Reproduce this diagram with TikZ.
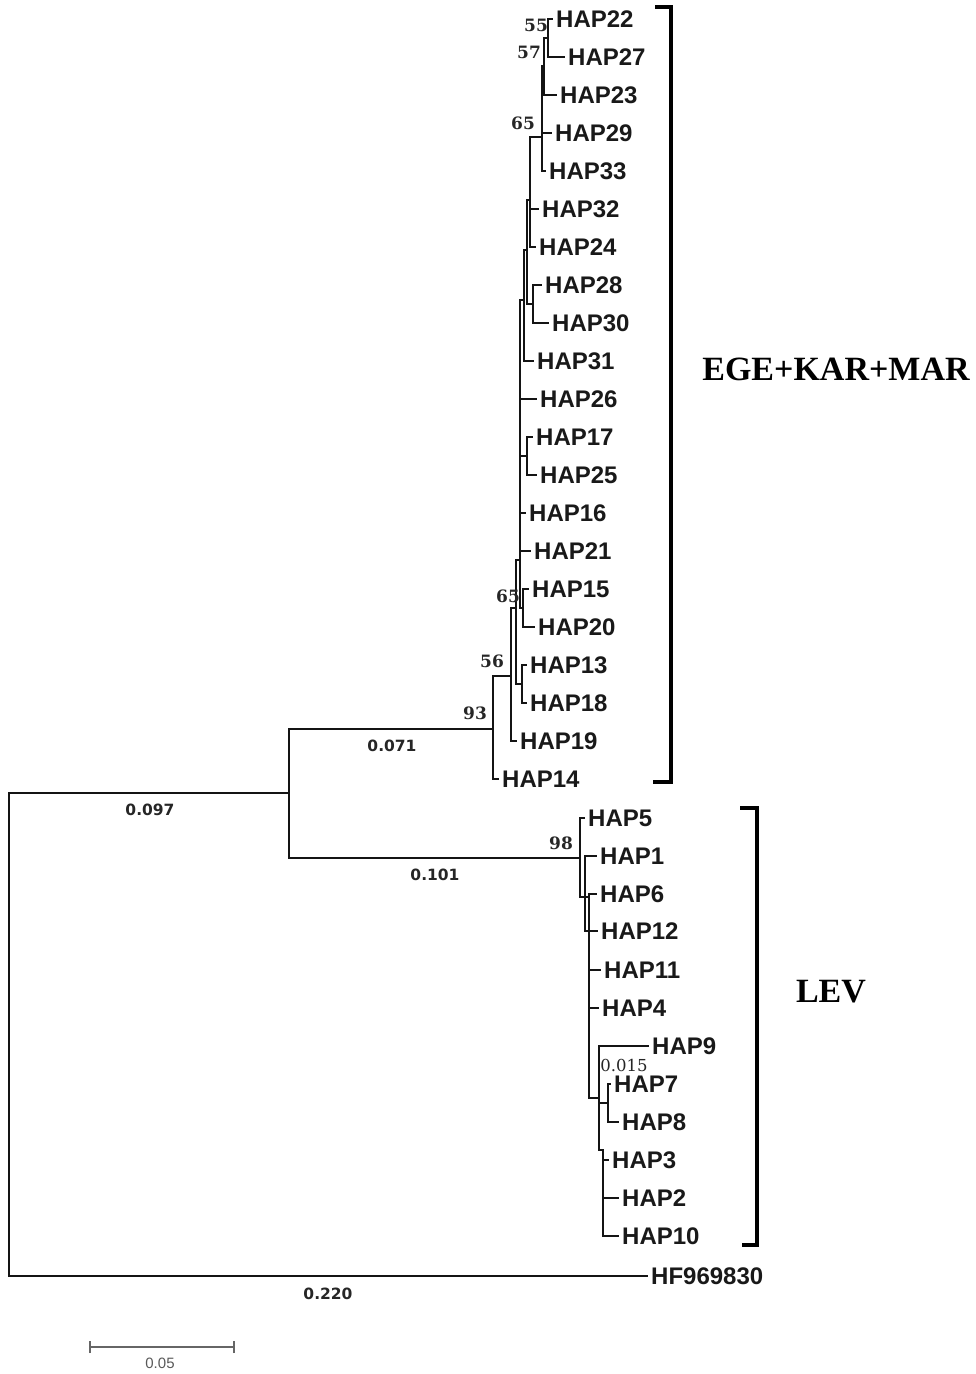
\documentclass[tikz,border=0pt]{standalone}
\usepackage{fontspec}
\setmainfont{Liberation Sans}
\newfontfamily\bootfont{DejaVu Serif}
\newfontfamily\lenfont{DejaVu Sans}
\newfontfamily\grpfont{Liberation Serif}
\begin{document}
\begin{tikzpicture}[x=1pt,y=-1pt,
  br/.style={line width=2.2pt, line cap=rect, draw=black!92},
  leaf/.style={anchor=west, inner xsep=4pt, inner ysep=0pt, text=black!90,
    font=\fontsize{24}{26}\selectfont\bfseries},
  boot/.style={inner sep=0pt, text=black!85, font=\bootfont\bfseries\fontsize{17}{18}\selectfont},
  bootlight/.style={inner sep=0pt, text=black!85, font=\bootfont\fontsize{16.5}{18}\selectfont},
  blen/.style={inner sep=0pt, text=black!85, font=\lenfont\bfseries\fontsize{15.5}{18}\selectfont},
  grp/.style={inner sep=0pt, font=\grpfont\bfseries\fontsize{34}{38}\selectfont},
  brk/.style={line width=4pt, draw=black},
  scalebar/.style={line width=1.4pt, draw=black!60},
]
\useasboundingbox (0,0) rectangle (976,1374);
\fill[white] (0,0) rectangle (976,1374);

% ---------- leaves (at branch tips) ----------
\node[leaf] (h22) at (552,19) {HAP22};
\node[leaf] (h27) at (564,57) {HAP27};
\node[leaf] (h23) at (556,95) {HAP23};
\node[leaf] (h29) at (551,133) {HAP29};
\node[leaf] (h33) at (545,171) {HAP33};
\node[leaf] (h32) at (538,209) {HAP32};
\node[leaf] (h24) at (535,247) {HAP24};
\node[leaf] (h28) at (541,285) {HAP28};
\node[leaf] (h30) at (548,323) {HAP30};
\node[leaf] (h31) at (533,361) {HAP31};
\node[leaf] (h26) at (536,399) {HAP26};
\node[leaf] (h17) at (532,437) {HAP17};
\node[leaf] (h25) at (536,475) {HAP25};
\node[leaf] (h16) at (525,513) {HAP16};
\node[leaf] (h21) at (530,551) {HAP21};
\node[leaf] (h15) at (528,589) {HAP15};
\node[leaf] (h20) at (534,627) {HAP20};
\node[leaf] (h13) at (526,665) {HAP13};
\node[leaf] (h18) at (526,703) {HAP18};
\node[leaf] (h19) at (516,741) {HAP19};
\node[leaf] (h14) at (498,779) {HAP14};
\node[leaf] (h5)  at (584,818) {HAP5};
\node[leaf] (h1)  at (596,856) {HAP1};
\node[leaf] (h6)  at (596,894) {HAP6};
\node[leaf] (h12) at (597,931) {HAP12};
\node[leaf] (h11) at (600,970) {HAP11};
\node[leaf] (h4)  at (598,1008) {HAP4};
\node[leaf] (h9)  at (648,1046) {HAP9};
\node[leaf] (h7)  at (610,1084) {HAP7};
\node[leaf] (h8)  at (618,1122) {HAP8};
\node[leaf] (h3)  at (608,1160) {HAP3};
\node[leaf] (h2)  at (618,1198) {HAP2};
\node[leaf] (h10) at (618,1236) {HAP10};
\node[leaf] (hf)  at (647,1276) {HF969830};

% ---------- internal nodes ----------
\coordinate (n55) at (548,38);
\coordinate (n57) at (544,66);
\coordinate (p65) at (542,137);
\coordinate (g3)  at (530,200);
\coordinate (n28) at (533,304);
\coordinate (g2)  at (527,250);
\coordinate (g)   at (524,300);
\coordinate (hh)  at (527,456);
\coordinate (e)   at (523,608);
\coordinate (d)   at (520,560);
\coordinate (f)   at (522,684);
\coordinate (c)   at (516,608);
\coordinate (b)   at (511,676);
\coordinate (t)   at (493,729);
\coordinate (s)   at (603,1150);
\coordinate (r)   at (608,1103);
\coordinate (q)   at (599,1098);
\coordinate (nn)  at (589,897);
\coordinate (m)   at (585,897);
\coordinate (l)   at (580,858);
\coordinate (n1)  at (289,793);
\coordinate (root) at (9,1035);

% ---------- branches ----------
\draw[br] (n55) |- (h22.west) (n55) |- (h27.west);
\draw[br] (n57) |- (n55) (n57) |- (h23.west);
\draw[br] (p65) |- (n57) (p65) |- (h29.west) (p65) |- (h33.west);
\draw[br] (g3) |- (p65) (g3) |- (h32.west) (g3) |- (h24.west);
\draw[br] (n28) |- (h28.west) (n28) |- (h30.west);
\draw[br] (g2) |- (g3) (g2) |- (n28);
\draw[br] (g) |- (g2) (g) |- (h31.west);
\draw[br] (hh) |- (h17.west) (hh) |- (h25.west);
\draw[br] (e) |- (h15.west) (e) |- (h20.west);
\draw[br] (d) |- (g) (d) |- (h26.west) (d) |- (hh) (d) |- (h16.west) (d) |- (h21.west) (d) |- (e);
\draw[br] (f) |- (h13.west) (f) |- (h18.west);
\draw[br] (c) |- (d) (c) |- (f);
\draw[br] (b) |- (c) (b) |- (h19.west);
\draw[br] (t) |- (b) (t) |- (h14.west);
\draw[br] (s) |- (h3.west) (s) |- (h2.west) (s) |- (h10.west);
\draw[br] (r) |- (h7.west) (r) |- (h8.west);
\draw[br] (q) |- (h9.west) (q) |- (r) (q) |- (s);
\draw[br] (nn) |- (h6.west) (nn) |- (h11.west) (nn) |- (h4.west) (nn) |- (q);
\draw[br] (m) |- (h1.west) (m) |- (nn) (m) |- (h12.west);
\draw[br] (l) |- (h5.west) (l) |- (m);
\draw[br] (n1) |- (t) (n1) |- (l);
\draw[br] (root) |- (n1) (root) |- (hf.west);

% ---------- bootstrap values ----------
\node[boot] at (536,25) {55};
\node[boot] at (529,52) {57};
\node[boot] at (523,123) {65};
\node[boot] at (508,596) {65};
\node[boot] at (492,661) {56};
\node[boot] at (475,713) {93};
\node[boot] at (561,843) {98};
\node[bootlight] at (624,1065) {0.015};

% ---------- branch lengths ----------
\node[blen] at (150,810) {0.097};
\node[blen] at (392,746) {0.071};
\node[blen] at (435,875) {0.101};
\node[blen] at (328,1294) {0.220};

% ---------- brackets and group names ----------
\draw[brk] (655,7) -| (671,782) -- (653,782);
\draw[brk] (740,808) -| (757,1245) -- (742,1245);
\node[grp] at (836,369) {EGE+KAR+MAR};
\node[grp] at (831,992) {LEV};

% ---------- scale bar ----------
\coordinate (sbl) at (90,1347);
\coordinate (sbr) at (234,1347);
\draw[scalebar] (sbl) -- (sbr);
\draw[scalebar] ([yshift=-6pt]sbl) -- ([yshift=6pt]sbl);
\draw[scalebar] ([yshift=-6pt]sbr) -- ([yshift=6pt]sbr);
\node[inner sep=0pt, text=black!65, font=\fontsize{15}{17}\selectfont] at (160,1363) {0.05};
\end{tikzpicture}
\end{document}
